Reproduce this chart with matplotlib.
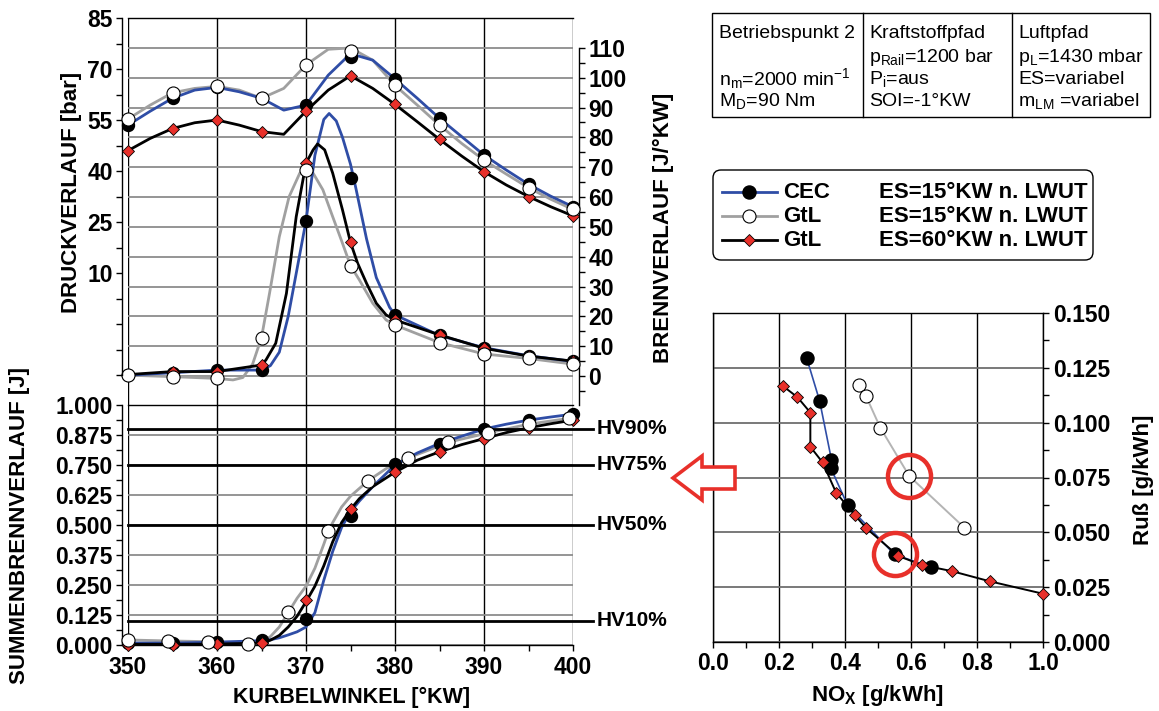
import numpy as np
import matplotlib
matplotlib.use("Agg")
import matplotlib.pyplot as plt
import matplotlib.ticker as ticker
from matplotlib.lines import Line2D
from matplotlib.patches import FancyBboxPatch, Polygon, Rectangle
from matplotlib.transforms import IdentityTransform

W, H = 1159, 711

# ---- crank angle grid for markers
ANGLE = [350, 355, 360, 365, 370, 375, 380, 385, 390, 395, 400]

# ---- cylinder pressure [bar] (markers)
P_CEC   = [53.5, 61.4, 64.6, 61.5, 59.4, 73.6, 67.1, 55.5, 44.7, 36.1, 29.5]
P_GTL15 = [55.3, 63.0, 64.9, 61.4, 71.2, 75.4, 65.2, 53.5, 43.2, 35.1, 28.7]
P_GTL60 = [46.0, 52.5, 55.0, 51.6, 57.6, 68.0, 59.6, 49.3, 39.8, 32.5, 26.8]

# ---- cylinder pressure traces
P_LINE_ANGLE = [350, 352.5, 355, 357.5, 360, 362.5, 365, 367.5, 370, 372.5, 375,
                377.5, 380, 382.5, 385, 387.5, 390, 392.5, 395, 397.5, 400]
P_LINE_CEC   = [53.5, 57.6, 61.4, 63.8, 64.6, 63.3, 61.4, 57.9, 59.4, 68.2, 74.5,
                72.6, 67.1, 61.4, 55.5, 50.1, 44.7, 40.3, 36.1, 32.6, 29.5]
P_LINE_GTL15 = [55.3, 59.4, 63.0, 64.3, 64.9, 63.8, 61.4, 64.3, 71.2, 75.8, 76.2,
                72.6, 65.2, 59.4, 53.5, 48.1, 43.2, 39.1, 35.1, 31.7, 28.7]
P_LINE_GTL60 = [46.0, 49.6, 52.5, 54.2, 55.0, 53.5, 51.6, 50.8, 57.6, 63.8, 68.0,
                64.3, 59.6, 54.5, 49.3, 44.4, 39.8, 35.9, 32.5, 29.5, 26.8]

# ---- heat release rate [J/°KW] (markers)
B_CEC   = [0.3, 1.1, 2.0, 2.0, 52.1, 66.5, 20.5, 13.6, 9.5, 6.8, 4.9]
B_GTL15 = [0.3, -0.2, -0.8, 12.9, 69.1, 37.0, 17.1, 11.2, 7.4, 5.9, 4.0]
B_GTL60 = [0.5, 1.5, 1.5, 3.7, 71.3, 44.8, 18.8, 13.8, 9.3, 6.7, 5.0]

# ---- heat release rate traces
B_LINE_CEC_X = [350, 355, 360, 365, 366, 367, 368, 369, 370, 371, 372, 372.6, 373.4,
                374.1, 375, 375.6, 376.8, 377.9, 379.4, 380, 385, 390, 395, 400]
B_LINE_CEC   = [0.3, 1.1, 2.0, 2.0, 3.5, 8.0, 20.0, 36.0, 52.0, 74.0, 86.0, 88.0, 85.5,
                80.0, 71.0, 63.0, 46.0, 33.0, 23.0, 20.5, 13.6, 9.5, 6.8, 4.9]
B_LINE_GTL60_X = [350, 355, 360, 365, 365.5, 366.6, 367.8, 368.9, 370, 370.8, 371.3,
                  372.1, 373, 374.1, 375, 375.8, 376.8, 377.9, 379, 380, 385, 390, 395, 400]
B_LINE_GTL60   = [0.5, 1.5, 1.5, 3.7, 5.4, 11.0, 27.7, 53.4, 71.3, 75.8, 77.8,
                  75.8, 68.0, 55.7, 44.8, 37.8, 31.1, 24.4, 20.5, 18.8, 13.8, 9.3, 6.7, 5.0]
B_LINE_GTL15_X = [350, 355, 360, 361.8, 362.9, 364, 365, 365.9, 367, 368.1, 369.3, 370,
                  370.8, 371.9, 373, 374.1, 375, 376, 377.5, 379, 380, 385, 390, 395, 400]
B_LINE_GTL15   = [0.3, -0.2, -0.8, -1.3, -0.5, 4.0, 12.9, 27.7, 46.7, 60.1, 68.0, 69.1,
                  68.0, 62.4, 53.4, 44.5, 37.0, 32.2, 24.4, 18.8, 17.1, 11.2, 7.4, 5.9, 4.0]

# ---- cumulative heat release (markers)
S_CEC   = [0.007, 0.007, 0.014, 0.021, 0.109, 0.536, 0.755, 0.839, 0.898, 0.937, 0.961]
S_GTL60 = [0.0, 0.0, 0.003, 0.007, 0.189, 0.566, 0.72, 0.804, 0.86, 0.905, 0.937]
S_GTL15_X = [350, 354.5, 359, 363.5, 368, 372.5, 377, 381.5, 386, 390.5, 395, 399.5]
S_GTL15   = [0.021, 0.017, 0.014, 0.004, 0.136, 0.473, 0.685, 0.780, 0.845, 0.884, 0.920, 0.944]

# ---- cumulative heat release traces
S_LINE_X = [350, 355, 360, 365, 366, 367, 368, 369, 370, 371, 372, 373, 374, 375, 376,
            377.5, 380, 382.5, 385, 387.5, 390, 392.5, 395, 397.5, 400]
S_LINE_CEC   = [0.008, 0.008, 0.012, 0.018, 0.022, 0.030, 0.042, 0.055, 0.075, 0.135, 0.27,
                0.39, 0.49, 0.555, 0.60, 0.66, 0.75, 0.80, 0.84, 0.87, 0.90, 0.92, 0.937, 0.95, 0.962]
S_LINE_GTL60 = [0.003, 0.003, 0.004, 0.008, 0.02, 0.04, 0.075, 0.12, 0.18, 0.245, 0.33,
                0.43, 0.51, 0.565, 0.61, 0.66, 0.72, 0.77, 0.805, 0.835, 0.86, 0.885, 0.905, 0.922, 0.937]
S_LINE_GTL15_X = [350, 354.5, 359, 363.5, 365, 366, 367, 368, 369, 370, 371, 372, 372.5,
                  373, 374, 375, 377, 379, 381.5, 384, 386, 390.5, 395, 399.5]
S_LINE_GTL15   = [0.021, 0.017, 0.014, 0.005, 0.012, 0.035, 0.075, 0.135, 0.195, 0.245, 0.32,
                  0.42, 0.473, 0.51, 0.575, 0.62, 0.685, 0.735, 0.78, 0.815, 0.845, 0.884, 0.92, 0.944]

HV_LEVELS = [0.9, 0.75, 0.5, 0.1]
HV_LABELS = ["HV90%", "HV75%", "HV50%", "HV10%"]

# ---- NOx / soot trade-off
NOX_CEC   = [0.284, 0.323, 0.359, 0.357, 0.408, 0.550, 0.661]
SOOT_CEC  = [0.1294, 0.110, 0.0831, 0.0793, 0.0623, 0.0399, 0.0341]
NOX_GTL15  = [0.443, 0.464, 0.507, 0.595, 0.762]
SOOT_GTL15 = [0.1172, 0.112, 0.0977, 0.0756, 0.0521]
NOX_GTL60  = [0.211, 0.256, 0.295, 0.295, 0.332, 0.373, 0.430, 0.465, 0.562, 0.633, 0.724, 0.838, 1.0]
SOOT_GTL60 = [0.1168, 0.1116, 0.1046, 0.089, 0.0819, 0.0681, 0.0578, 0.0518, 0.0392, 0.0351, 0.0323, 0.0277, 0.0220]

BLUE = "#2f4da6"
GREY = "#a0a0a0"
RED = "#e8302a"

plt.rcParams.update({
    "font.family": ["Liberation Sans", "DejaVu Sans"],
    "font.weight": "bold",
    "font.size": 16,
    "mathtext.default": "regular",
    "axes.linewidth": 1.0,
    "xtick.major.width": 1.0,
    "ytick.major.width": 1.0,
    "xtick.minor.width": 1.0,
    "ytick.minor.width": 1.0,
    "xtick.major.size": 4,
    "ytick.major.size": 4,
    "xtick.minor.size": 4,
    "ytick.minor.size": 4,
})

TICK_FS = 16.5

fig = plt.figure(figsize=(W / 100, H / 100), dpi=100)


def fx(px):
    return px / W


def fy(py):
    return 1 - py / H


L, R = fx(128), fx(573)

# ---------------- upper panel: heat release rate (right) + pressure (left)
ax_b = fig.add_axes([L, fy(405), R - L, (405 - 18) / H])
ax_p = ax_b.twinx()

ax_b.set_xlim(350, 400)
ax_b.set_ylim(-9.7, 120)
ax_b.yaxis.tick_right()
ax_b.set_yticks(range(0, 111, 10))
ax_b.yaxis.set_minor_locator(ticker.FixedLocator(np.arange(-5, 110, 10)))
ax_b.set_xticks(range(350, 401, 10))
ax_b.tick_params(axis="x", length=0, labelbottom=False)
ax_b.tick_params(axis="y", which="both", direction="out", pad=3, labelsize=TICK_FS,
                 left=False, labelleft=False, right=True, labelright=True)
ax_b.grid(axis="x", color="black", lw=1.0)
ax_b.grid(axis="y", color="#8c8c8c", lw=1.3)
for s in ["left", "top", "bottom"]:
    ax_b.spines[s].set_visible(False)
ax_b.spines["right"].set_position(("outward", 4))
ax_b.spines["right"].set_bounds(-9.7, 110)

ax_b.plot(B_LINE_GTL15_X, B_LINE_GTL15, color=GREY, lw=2)
ax_b.plot(B_LINE_CEC_X, B_LINE_CEC, color=BLUE, lw=2)
ax_b.plot(B_LINE_GTL60_X, B_LINE_GTL60, color="black", lw=2)
ax_b.plot(ANGLE, B_CEC, ls="none", marker="o", ms=8.6, mfc="black", mec="black", clip_on=False, zorder=5)
ax_b.plot(ANGLE, B_GTL60, ls="none", marker="D", ms=6.6, mfc=RED, mec="black", mew=0.6, clip_on=False, zorder=5)
ax_b.plot(ANGLE, B_GTL15, ls="none", marker="o", ms=9.4, mfc="white", mec="black", mew=0.8, clip_on=False, zorder=6)

ax_p.set_xlim(350, 400)
ax_p.set_ylim(-28.8, 85)
ax_p.set_yticks([-20, -5, 10, 25, 40, 55, 70, 85])
ax_p.set_yticklabels(["", "", "10", "25", "40", "55", "70", "85"])
ax_p.yaxis.set_minor_locator(ticker.FixedLocator(np.arange(-12.5, 85, 15)))
ax_p.tick_params(axis="y", which="both", direction="out", pad=3, labelsize=TICK_FS,
                 left=True, labelleft=True, right=False, labelright=False)
ax_p.tick_params(axis="x", length=0, labelbottom=False)
for s in ["right", "bottom"]:
    ax_p.spines[s].set_visible(False)
ax_p.spines["left"].set_visible(True)
ax_p.spines["left"].set_position(("outward", 4))
ax_p.spines["left"].set_bounds(-20, 85)

ax_p.plot(P_LINE_ANGLE, P_LINE_GTL15, color=GREY, lw=2)
ax_p.plot(P_LINE_ANGLE, P_LINE_CEC, color=BLUE, lw=2)
ax_p.plot(P_LINE_ANGLE, P_LINE_GTL60, color="black", lw=2)
ax_p.plot(ANGLE, P_CEC, ls="none", marker="o", ms=8.6, mfc="black", mec="black", clip_on=False, zorder=5)
ax_p.plot(ANGLE, P_GTL60, ls="none", marker="D", ms=6.6, mfc=RED, mec="black", mew=0.6, clip_on=False, zorder=5)
ax_p.plot(ANGLE, P_GTL15, ls="none", marker="o", ms=9.4, mfc="white", mec="black", mew=0.8, clip_on=False, zorder=6)

# ---------------- lower panel: cumulative heat release
ax_c = fig.add_axes([L, fy(645), R - L, (645 - 405) / H])
ax_c.set_xlim(350, 400)
ax_c.set_ylim(0, 1)
ax_c.set_yticks(np.arange(0, 1.001, 0.125))
ax_c.yaxis.set_major_formatter(ticker.FormatStrFormatter("%.3f"))
ax_c.yaxis.set_minor_locator(ticker.FixedLocator(np.arange(0.0625, 1, 0.125)))
ax_c.set_xticks(range(350, 401, 10))
ax_c.xaxis.set_minor_locator(ticker.MultipleLocator(5))
ax_c.tick_params(which="both", direction="out", labelsize=TICK_FS)
ax_c.tick_params(axis="y", pad=3)
ax_c.tick_params(axis="x", pad=4)
ax_c.grid(axis="x", color="black", lw=1.0)
ax_c.grid(axis="y", color="#8c8c8c", lw=1.3)
ax_c.spines["right"].set_visible(False)
ax_c.spines["left"].set_position(("outward", 4))

for lev, lab in zip(HV_LEVELS, HV_LABELS):
    ax_c.plot([350, 402.2], [lev, lev], color="black", lw=2, clip_on=False, zorder=3)
    ax_c.text(402.6, lev, lab, ha="left", va="center", fontsize=15, fontweight="bold")

ax_c.plot(S_LINE_GTL15_X, S_LINE_GTL15, color=GREY, lw=2)
ax_c.plot(S_LINE_X, S_LINE_CEC, color=BLUE, lw=2)
ax_c.plot(S_LINE_X, S_LINE_GTL60, color="black", lw=2)
ax_c.plot(ANGLE, S_CEC, ls="none", marker="o", ms=8.6, mfc="black", mec="black", clip_on=False, zorder=5)
ax_c.plot(ANGLE, S_GTL60, ls="none", marker="D", ms=6.6, mfc=RED, mec="black", mew=0.6, clip_on=False, zorder=5)
ax_c.plot(S_GTL15_X, S_GTL15, ls="none", marker="o", ms=9.4, mfc="white", mec="black", mew=0.8, clip_on=False, zorder=6)

fig.text(fx(71), fy(192), "DRUCKVERLAUF [bar]", rotation=90, ha="center", va="center", fontsize=16)
fig.text(fx(20), fy(526), "SUMMENBRENNVERLAUF [J]", rotation=90, ha="center", va="center", fontsize=16)
fig.text(fx(663), fy(228), "BRENNVERLAUF [J/°KW]", rotation=90, ha="center", va="center", fontsize=16)
fig.text(fx(352), fy(697), "KURBELWINKEL [°KW]", ha="center", va="center", fontsize=15.5)

# ---------------- right panel: NOx / soot
ax_r = fig.add_axes([fx(713), fy(642), (1043 - 713) / W, (642 - 313) / H])
ax_r.set_xlim(0, 1)
ax_r.set_ylim(0, 0.15)
ax_r.yaxis.tick_right()
ax_r.set_yticks(np.arange(0, 0.151, 0.025))
ax_r.yaxis.set_major_formatter(ticker.FormatStrFormatter("%.3f"))
ax_r.yaxis.set_minor_locator(ticker.MultipleLocator(0.0125))
ax_r.set_xticks(np.arange(0, 1.01, 0.2))
ax_r.xaxis.set_major_formatter(ticker.FormatStrFormatter("%.1f"))
ax_r.xaxis.set_minor_locator(ticker.MultipleLocator(0.1))
ax_r.tick_params(which="both", direction="out", labelsize=TICK_FS)
ax_r.grid(axis="x", color="black", lw=1.0)
ax_r.grid(axis="y", color="#6e6e6e", lw=1.3)

ax_r.plot(NOX_GTL15, SOOT_GTL15, color="#b4b4b4", lw=1.4, marker="o", ms=9.4, mfc="white", mec="black", mew=0.8)
ax_r.plot(NOX_CEC, SOOT_CEC, color=BLUE, lw=1.2, marker="o", ms=9.4, mfc="black", mec="black")
ax_r.plot(NOX_GTL60, SOOT_GTL60, color="black", lw=1.4, marker="D", ms=6.6, mfc=RED, mec="black", mew=0.6,
          clip_on=False, zorder=4)
# highlighted operating points
ax_r.plot([NOX_GTL15[3], NOX_CEC[5]], [SOOT_GTL15[3], SOOT_CEC[5]], ls="none", marker="o", ms=31,
          mfc="none", mec=RED, mew=3.2, zorder=6)

fig.text(fx(878), fy(695), "NO$_X$ [g/kWh]", ha="center", va="center", fontsize=16)
fig.text(fx(1143), fy(480), "Ruß [g/kWh]", rotation=90, ha="center", va="center", fontsize=16)

# hollow arrow pointing to the left panel
arrow_px = [(673, 478), (702, 456), (702, 467), (735, 467), (735, 489), (702, 489), (702, 500)]
fig.add_artist(Polygon([(fx(x), fy(y)) for x, y in arrow_px], closed=True, transform=fig.transFigure,
                       facecolor="white", edgecolor=RED, lw=2.6))

# ---------------- operating point table
fig.add_artist(Rectangle((fx(712), fy(117)), fx(1150) - fx(712), fy(13) - fy(117), transform=fig.transFigure,
                         facecolor="none", edgecolor="black", lw=1.0))
for xs in [863, 1012]:
    fig.add_artist(Line2D([fx(xs), fx(xs)], [fy(117), fy(13)], transform=fig.transFigure, color="black", lw=1.0))
TABLE = [
    (719, ["Betriebspunkt 2", "", "n$_m$=2000 min$^{-1}$", "M$_D$=90 Nm"]),
    (869, ["Kraftstoffpfad", "p$_{Rail}$=1200 bar", "P$_i$=aus", "SOI=-1°KW"]),
    (1018, ["Luftpfad", "p$_L$=1430 mbar", "ES=variabel", "m$_{LM}$ =variabel"]),
]
for x0, rows in TABLE:
    for yrow, txt in zip([33, 57, 79, 101], rows):
        fig.text(fx(x0), fy(yrow), txt, ha="left", va="center", fontsize=14, fontweight="normal")

# ---------------- legend
fig.add_artist(FancyBboxPatch((713, H - 260), 380, 90, boxstyle="round,pad=0,rounding_size=8",
                              transform=IdentityTransform(), facecolor="white", edgecolor="black", lw=1.0))
LEG = [
    (BLUE, dict(marker="o", ms=9.4, mfc="black", mec="black"), "CEC", "ES=15°KW n. LWUT"),
    (GREY, dict(marker="o", ms=9.4, mfc="white", mec="black", mew=0.8), "GtL", "ES=15°KW n. LWUT"),
    ("black", dict(marker="D", ms=6.6, mfc=RED, mec="black", mew=0.6), "GtL", "ES=60°KW n. LWUT"),
]
for yrow, (col, mk, name, desc) in zip([192, 216, 240], LEG):
    fig.add_artist(Line2D([fx(722), fx(777)], [fy(yrow), fy(yrow)], transform=fig.transFigure, color=col, lw=2))
    fig.add_artist(Line2D([fx(749)], [fy(yrow)], transform=fig.transFigure, ls="none", **mk))
    fig.text(fx(783), fy(yrow), name, ha="left", va="center", fontsize=16)
    fig.text(fx(879), fy(yrow), desc, ha="left", va="center", fontsize=16)

fig.savefig("out.png", dpi=100)
